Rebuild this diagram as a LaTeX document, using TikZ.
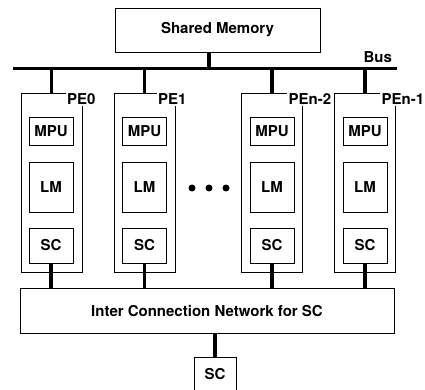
\documentclass[tikz,border=0pt]{standalone}
\usepackage{fontspec}
\setmainfont{TeX Gyre Heros}
\usepackage{tikz}

\begin{document}
\begin{tikzpicture}[
    x=1pt, y=-1pt,
    every node/.style={font=\fontsize{15}{18}\selectfont\bfseries},
    box/.style={rectangle, draw, line width=0.8pt, inner sep=0pt, minimum height=#1},
    box/.default=28pt,
    pebox/.style={rectangle, draw, line width=0.8pt, inner sep=0pt, minimum width=61pt, minimum height=179pt},
    unit/.style={box=#1, minimum width=44pt},
    pelabel/.style={anchor=base west, fill=white, inner sep=1.5pt},
    stem/.style={line width=3.5pt}
]
    \useasboundingbox (0,0) rectangle (425,390);
    \clip (0,0) rectangle (425,390);

    % Shared memory and bus
    \node[box=44pt, minimum width=205pt] (sm) at (217.5,30) {Shared Memory};
    \coordinate (busL) at (13,68.5);
    \coordinate (busR) at (397,68.5);
    \draw[stem] (busL) -- (busR) node[pos=0.95, above=1pt] (buslbl) {Bus};

    % PEs
    \node[pebox] (pe0)  at (51.5,182.5)  {};
    \node[pebox] (pe1)  at (144.5,182.5) {};
    \node[pebox] (pen2) at (272,182.5)   {};
    \node[pebox] (pen1) at (365,182.5)   {};

    \node[pelabel] (pe0lbl)  at ([xshift=-17pt, yshift=-12pt]pe0.north east)  {PE0};
    \node[pelabel] (pe1lbl)  at ([xshift=-19pt, yshift=-12pt]pe1.north east)  {PE1};
    \node[pelabel] (pen2lbl) at ([xshift=-16pt, yshift=-12pt]pen2.north east) {PEn-2};
    \node[pelabel] (pen1lbl) at ([xshift=-16pt, yshift=-12pt]pen1.north east) {PEn-1};

    % Units inside the PEs
    \node[unit=28pt] (mpu0) at (51,131)  {MPU};
    \node[unit=50pt] (lm0)  at (51,187)  {LM};
    \node[unit=35pt] (sc0)  at (51,245.5) {SC};

    \node[unit=28pt] (mpu1) at (144.5,131)  {MPU};
    \node[unit=50pt] (lm1)  at (144.5,187)  {LM};
    \node[unit=35pt] (sc1)  at (144.5,245.5) {SC};

    \node[unit=28pt] (mpun2) at (272,131)  {MPU};
    \node[unit=50pt] (lmn2)  at (272,187)  {LM};
    \node[unit=35pt] (scn2)  at (272,245.5) {SC};

    \node[unit=28pt] (mpun1) at (365,131)  {MPU};
    \node[unit=50pt] (lmn1)  at (365,187)  {LM};
    \node[unit=35pt] (scn1)  at (365,245.5) {SC};

    % Dots
    \fill (192,188) circle (3.5pt) (209,188) circle (3.5pt) (226,188) circle (3.5pt);

    % Network and outside SC
    \node[box=45pt, minimum width=374pt] (icn) at (207,310.5) {Inter Connection Network for SC};
    \node[box=34pt, minimum width=42pt, anchor=north] (scx) at (215,357) {SC};

    % Links
    \draw[stem] (sm.south -| 209,0) -- (busL -| 209,0);
    \draw[stem] (pe0.north  |- busL) -- (pe0.north);
    \draw[stem] (pe1.north  |- busL) -- (pe1.north);
    \draw[stem] (pen2.north |- busL) -- (pen2.north);
    \draw[stem] (pen1.north |- busL) -- (pen1.north);

    \draw[stem] (sc0.south)  -- (sc0.south  |- icn.north);
    \draw[stem] (sc1.south)  -- (sc1.south  |- icn.north);
    \draw[stem] (scn2.south) -- (scn2.south |- icn.north);
    \draw[stem] (scn1.south) -- (scn1.south |- icn.north);
    \draw[stem] (scx.north |- icn.south) -- (scx.north);
\end{tikzpicture}
\end{document}
